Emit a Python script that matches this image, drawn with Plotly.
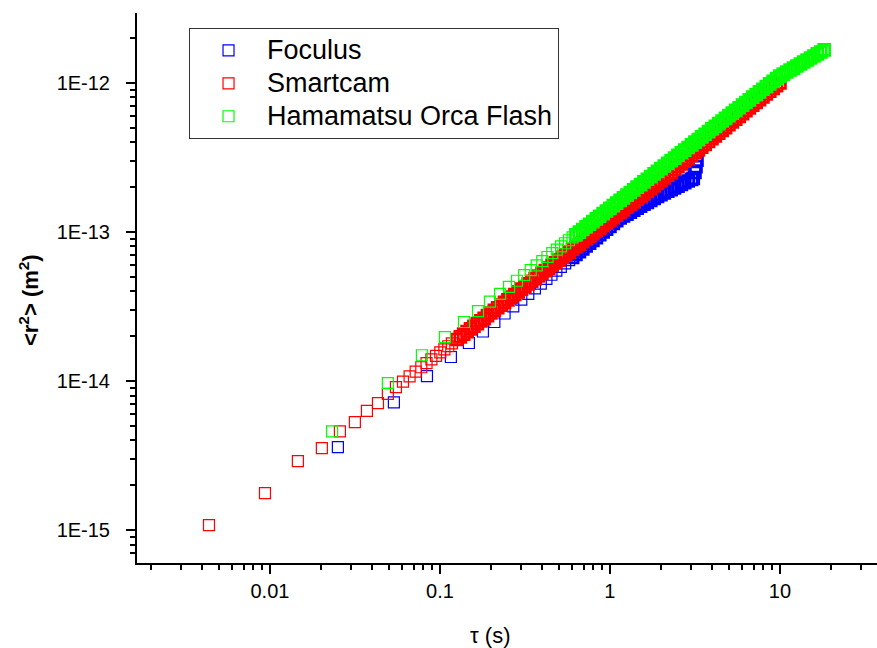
import plotly.graph_objects as go

# ---------------- data ----------------
series_names = ["Foculus", "Smartcam", "Hamamatsu Orca Flash"]

foculus_tau = [0.0251, 0.0536, 0.0839, 0.116, 0.148, 0.179, 0.209, 0.240, 0.270, 0.301,
               0.331, 0.362, 0.392, 0.423, 0.453, 0.484, 0.514, 0.545, 0.575,
               0.603, 0.631, 0.661, 0.692, 0.724, 0.759, 0.794, 0.832, 0.871, 0.912,
               0.955, 1.0, 1.047, 1.096, 1.148, 1.202, 1.259, 1.318, 1.380, 1.445,
               1.514, 1.585, 1.660, 1.738, 1.820, 1.905, 1.995, 2.089, 2.188, 2.291,
               2.399, 2.512, 2.630, 2.754, 2.884, 3.020, 3.090, 3.162, 3.206, 3.25]
foculus_r2 = [3.6e-15, 7.2e-15, 1.08e-14, 1.45e-14, 1.8e-14, 2.15e-14, 2.49e-14, 2.84e-14,
              3.17e-14, 3.52e-14, 3.85e-14, 4.19e-14, 4.51e-14, 4.85e-14, 5.17e-14, 5.51e-14,
              5.83e-14, 6.16e-14, 6.48e-14,
              6.77e-14, 7.08e-14, 7.39e-14, 7.72e-14, 8.06e-14, 8.42e-14, 8.79e-14, 9.18e-14,
              9.59e-14, 1.002e-13, 1.046e-13, 1.093e-13, 1.141e-13, 1.192e-13, 1.242e-13,
              1.282e-13, 1.321e-13, 1.361e-13, 1.403e-13, 1.446e-13, 1.490e-13, 1.536e-13,
              1.583e-13, 1.631e-13, 1.681e-13, 1.733e-13, 1.782e-13, 1.830e-13, 1.878e-13,
              1.929e-13, 1.980e-13, 2.033e-13, 2.087e-13, 2.143e-13, 2.200e-13, 2.258e-13,
              2.29e-13, 2.51e-13, 2.75e-13, 3.04e-13]

smartcam_tau = [0.00438, 0.00935, 0.0146, 0.0202, 0.0258, 0.0316, 0.0372, 0.0432, 0.0494,
                0.0551, 0.0606, 0.0663, 0.072, 0.0777, 0.0834, 0.0891, 0.0948, 0.1005,
                0.1062, 0.1119, 0.1176,
                0.1259, 0.1318, 0.1380, 0.1445, 0.1514, 0.1585, 0.1660, 0.1738, 0.1820,
                0.1905, 0.1995, 0.2089, 0.2188, 0.2291, 0.2399, 0.2512, 0.2630, 0.2754,
                0.2884, 0.3020, 0.3162, 0.3311, 0.3467, 0.3631, 0.3802, 0.3981, 0.4169,
                0.4365, 0.4571, 0.4786, 0.5012, 0.5248, 0.5495, 0.5754, 0.6026,
                0.631, 0.661, 0.692, 0.724, 0.759, 0.794, 0.832, 0.871, 0.912, 0.955,
                1.0, 1.047, 1.096, 1.148, 1.202, 1.259, 1.318, 1.380, 1.445, 1.514,
                1.585, 1.660, 1.738, 1.820, 1.905, 1.995, 2.089, 2.188, 2.291, 2.399,
                2.512, 2.630, 2.754, 2.884, 3.020, 3.162, 3.311, 3.467, 3.631, 3.802,
                3.981, 4.169, 4.365, 4.571, 4.786, 5.012, 5.248, 5.495, 5.754, 6.026,
                6.310, 6.607, 6.918, 7.244, 7.586, 7.943, 8.318, 8.710, 9.120, 9.550, 10.0]
smartcam_r2 = [1.08e-15, 1.77e-15, 2.9e-15, 3.55e-15, 4.6e-15, 5.3e-15, 6.3e-15, 7.1e-15,
               8.2e-15, 9.1e-15, 9.9e-15, 1.075e-14, 1.157e-14, 1.238e-14, 1.318e-14,
               1.398e-14, 1.477e-14, 1.556e-14, 1.634e-14, 1.712e-14, 1.788e-14,
               1.900e-14, 1.980e-14, 2.063e-14, 2.149e-14, 2.239e-14, 2.333e-14, 2.430e-14,
               2.531e-14, 2.637e-14, 2.747e-14, 2.862e-14, 2.981e-14, 3.105e-14, 3.235e-14,
               3.370e-14, 3.510e-14, 3.657e-14, 3.809e-14, 3.968e-14, 4.134e-14, 4.307e-14,
               4.486e-14, 4.674e-14, 4.869e-14, 5.072e-14, 5.284e-14, 5.505e-14, 5.734e-14,
               5.974e-14, 6.223e-14, 6.483e-14, 6.754e-14, 7.035e-14, 7.328e-14, 7.634e-14,
               7.95e-14, 8.28e-14, 8.63e-14, 8.99e-14, 9.36e-14, 9.75e-14, 1.017e-13,
               1.059e-13, 1.103e-13, 1.149e-13, 1.197e-13, 1.247e-13, 1.299e-13, 1.353e-13,
               1.409e-13, 1.468e-13, 1.530e-13, 1.594e-13, 1.660e-13, 1.729e-13, 1.801e-13,
               1.877e-13, 1.955e-13, 2.037e-13, 2.121e-13,
               2.210e-13, 2.308e-13, 2.410e-13, 2.517e-13, 2.628e-13, 2.744e-13, 2.866e-13,
               2.993e-13, 3.125e-13, 3.263e-13, 3.408e-13, 3.559e-13, 3.716e-13, 3.880e-13,
               4.051e-13, 4.230e-13, 4.417e-13, 4.612e-13, 4.816e-13, 5.028e-13, 5.250e-13,
               5.482e-13, 5.724e-13, 5.977e-13, 6.240e-13, 6.516e-13, 6.804e-13, 7.103e-13,
               7.417e-13, 7.743e-13, 8.085e-13, 8.441e-13, 8.811e-13, 9.202e-13, 9.609e-13,
               1.003e-12]

orca_tau = [0.0232, 0.0494, 0.0783, 0.107, 0.1385, 0.1675, 0.197, 0.226, 0.255, 0.284,
            0.313, 0.342, 0.371, 0.400, 0.429, 0.458, 0.487, 0.516, 0.545, 0.574, 0.603,
            0.631, 0.661, 0.692, 0.724, 0.759, 0.794, 0.832, 0.871, 0.912, 0.955,
            1.0, 1.047, 1.096, 1.148, 1.202, 1.259, 1.318, 1.380, 1.445, 1.514,
            1.585, 1.660, 1.738, 1.820, 1.905, 1.995, 2.089, 2.188, 2.291, 2.399,
            2.512, 2.630, 2.754, 2.884, 3.020, 3.162, 3.311, 3.467, 3.631, 3.802,
            3.981, 4.169, 4.365, 4.571, 4.786, 5.012, 5.248, 5.495, 5.754, 6.026,
            6.310, 6.607, 6.918, 7.244, 7.586, 7.943, 8.318, 8.710, 9.120, 9.550, 10.0,
            10.47, 10.96, 11.48, 12.02, 12.59, 13.18, 13.80, 14.45, 15.14, 15.85,
            16.60, 17.38, 18.20]
orca_r2 = [4.6e-15, 9.7e-15, 1.49e-14, 1.97e-14, 2.49e-14, 2.95e-14, 3.41e-14, 3.85e-14,
           4.28e-14, 4.71e-14, 5.14e-14, 5.56e-14, 5.98e-14, 6.39e-14, 6.80e-14, 7.21e-14,
           7.61e-14, 8.01e-14, 8.41e-14, 8.81e-14, 9.20e-14,
           9.58e-14, 9.98e-14, 1.040e-13, 1.083e-13, 1.128e-13, 1.175e-13, 1.225e-13,
           1.276e-13, 1.329e-13, 1.384e-13, 1.442e-13, 1.502e-13, 1.565e-13, 1.630e-13,
           1.698e-13, 1.769e-13, 1.843e-13, 1.920e-13, 2.000e-13, 2.083e-13, 2.170e-13,
           2.261e-13, 2.355e-13, 2.454e-13, 2.556e-13, 2.663e-13, 2.774e-13, 2.890e-13,
           3.011e-13, 3.136e-13, 3.267e-13, 3.404e-13, 3.546e-13, 3.694e-13, 3.848e-13,
           4.009e-13, 4.177e-13, 4.351e-13, 4.533e-13, 4.721e-13, 4.919e-13, 5.124e-13,
           5.338e-13, 5.561e-13, 5.793e-13, 6.035e-13, 6.287e-13, 6.549e-13, 6.823e-13,
           7.107e-13, 7.404e-13, 7.714e-13, 8.035e-13, 8.371e-13, 8.720e-13, 9.084e-13,
           9.463e-13, 9.856e-13, 1.027e-12, 1.070e-12, 1.114e-12,
           1.149e-12, 1.186e-12, 1.223e-12, 1.261e-12, 1.301e-12, 1.342e-12, 1.384e-12,
           1.427e-12, 1.472e-12, 1.518e-12, 1.567e-12, 1.616e-12, 1.667e-12]

x_tick_values = [0.01, 0.1, 1, 10]
x_tick_labels = ["0.01", "0.1", "1", "10"]
y_tick_values = [1e-15, 1e-14, 1e-13, 1e-12]
y_tick_labels = ["1E-15", "1E-14", "1E-13", "1E-12"]

assert len(foculus_tau) == len(foculus_r2)
assert len(smartcam_tau) == len(smartcam_r2)
assert len(orca_tau) == len(orca_r2)

# ---------------- styling ----------------
colors = ["#0000FF", "#FF0000", "#00FF00"]
# index where the points become so dense that they merge into a band
dense_start = [19, 21, 21]
FONT = "Arial, 'Liberation Sans', sans-serif"
x_range = [-2.782, 1.571]
y_range = [-15.221, -11.530]

x_minor = [m * 10.0 ** e for e in range(-3, 2) for m in range(2, 10)]
y_minor = [m * 10.0 ** e for e in range(-16, -11) for m in range(2, 10)]

fig = go.Figure()
for name, tx, ry, col, n in zip(series_names,
                                [foculus_tau, smartcam_tau, orca_tau],
                                [foculus_r2, smartcam_r2, orca_r2],
                                colors, dense_start):
    label = '<span style="font-size:27px">' + name + '</span>'
    fig.add_trace(go.Scatter(
        x=tx[:n], y=ry[:n], name=label, legendgroup=name, mode="markers",
        marker=dict(symbol="square-open", size=11, color=col,
                    line=dict(color=col, width=1.2)),
    ))
    fig.add_trace(go.Scatter(
        x=tx[n:], y=ry[n:], name=label, legendgroup=name, showlegend=False,
        mode="markers",
        marker=dict(symbol="square-open", size=11, color=col,
                    line=dict(color=col, width=2.7)),
    ))

axis_common = dict(
    showgrid=False, zeroline=False, showline=True, linecolor="black", linewidth=2,
    ticks="outside", ticklen=9, tickwidth=2, tickcolor="black",
    tickfont=dict(family=FONT, size=20, color="black"),
)

fig.update_layout(
    width=877, height=648,
    margin=dict(l=137, r=0, t=13, b=85),
    paper_bgcolor="white", plot_bgcolor="white",
    font=dict(family=FONT, color="black"),
    xaxis=dict(type="log", range=x_range, tickvals=x_tick_values, ticktext=x_tick_labels,
               minor=dict(tickvals=x_minor, ticks="outside", ticklen=5, tickwidth=1.5,
                          tickcolor="black"),
               ticklabelstandoff=0, **axis_common),
    xaxis2=dict(type="log", range=x_range, overlaying="x", side="top", anchor="y",
                showgrid=False, zeroline=False, showline=True, linecolor="black",
                linewidth=2, ticks="inside", ticklen=9, tickwidth=2, tickcolor="black",
                tickvals=x_tick_values, showticklabels=False,
                minor=dict(tickvals=x_minor, ticks="inside", ticklen=5, tickwidth=1.5,
                           tickcolor="black")),
    yaxis=dict(type="log", range=y_range, tickvals=y_tick_values, ticktext=y_tick_labels,
               minor=dict(tickvals=y_minor, ticks="outside", ticklen=5, tickwidth=1.5,
                          tickcolor="black"),
               ticklabelstandoff=12, **axis_common),
    legend=dict(x=0.0703, y=0.9727, xanchor="left", yanchor="top",
                bgcolor="white", bordercolor="#333333", borderwidth=1,
                font=dict(family=FONT, size=23, color="black"),
                itemwidth=67, tracegroupgap=0),
    showlegend=True,
    annotations=[
        dict(text="τ (s)", xref="paper", yref="paper", x=0.477, y=-0.1327,
             xanchor="center", yanchor="middle", showarrow=False,
             font=dict(family=FONT, size=22, color="black")),
        dict(text="<b>&lt;r<sup>2</sup>&gt; (m<sup>2</sup>)</b>", xref="paper", yref="paper",
             x=-0.1460, y=0.478, xanchor="center", yanchor="middle", showarrow=False,
             textangle=-90, font=dict(family=FONT, size=22, color="black")),
    ],
)

fig.write_html("out.html")
